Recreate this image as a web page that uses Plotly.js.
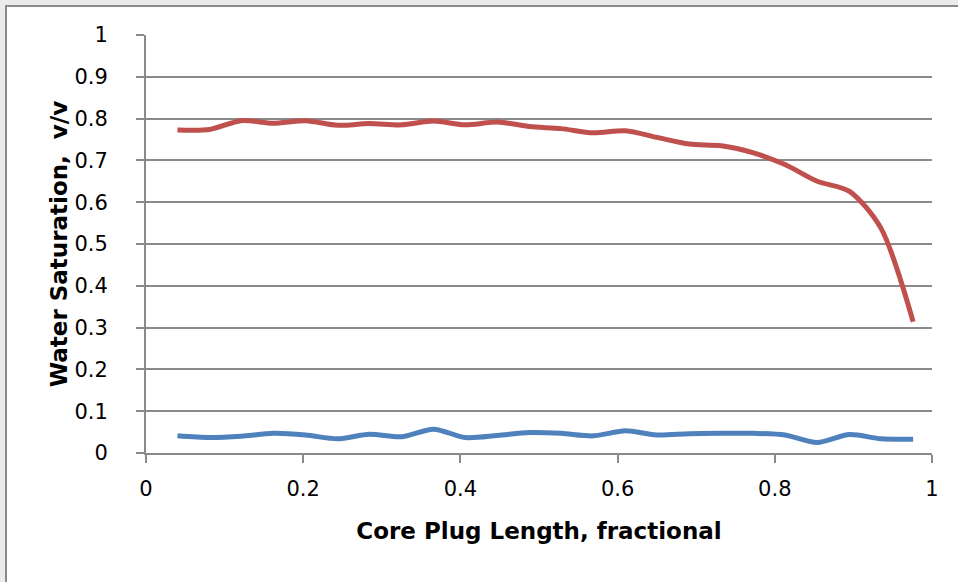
<!DOCTYPE html>
<html>
<head>
<meta charset="utf-8">
<script src="https://cdn.plot.ly/plotly-3.0.1.min.js"></script>
<style>
html,body{margin:0;padding:0;background:#ebebeb;width:958px;height:582px;overflow:hidden;}
#frame{position:absolute;left:5px;top:5px;width:958px;height:582px;background:#fff;border-left:2px solid #8a8a8a;border-top:2px solid #8a8a8a;}
#chart{position:absolute;left:0;top:0;width:958px;height:582px;}
</style>
</head>
<body>
<div id="frame"></div>
<div id="chart"></div>
<script>
var positions = [0.040, 0.081, 0.121, 0.162, 0.203, 0.244, 0.284, 0.325, 0.366, 0.406, 0.447, 0.488,
                 0.528, 0.569, 0.610, 0.650, 0.691, 0.732, 0.773, 0.813, 0.854, 0.895, 0.935, 0.976];
var redSeries = [0.773, 0.774, 0.795, 0.789, 0.795, 0.784, 0.788, 0.785, 0.794, 0.785, 0.792, 0.781,
                 0.776, 0.766, 0.771, 0.755, 0.739, 0.735, 0.718, 0.690, 0.650, 0.626, 0.538, 0.314];
var blueSeries = [0.041, 0.037, 0.040, 0.047, 0.043, 0.034, 0.045, 0.039, 0.057, 0.037, 0.042, 0.049,
                  0.047, 0.041, 0.053, 0.043, 0.046, 0.047, 0.047, 0.043, 0.025, 0.044, 0.034, 0.033];
var xTicks = [0, 0.2, 0.4, 0.6, 0.8, 1];
var yTicks = [0, 0.1, 0.2, 0.3, 0.4, 0.5, 0.6, 0.7, 0.8, 0.9, 1];
var xTitle = 'Core Plug Length, fractional';
var yTitle = 'Water Saturation,  v/v';

var traces = [
  {x: positions, y: blueSeries, mode: 'lines', line: {color: '#4F81BD', width: 5, shape: 'spline', smoothing: 0.8}, hoverinfo: 'skip'},
  {x: positions, y: redSeries, mode: 'lines', line: {color: '#C0504D', width: 5, shape: 'spline', smoothing: 0.8}, hoverinfo: 'skip'}
];
var fontFam = '"DejaVu Sans", sans-serif';
var layout = {
  width: 958, height: 582,
  margin: {l: 146, r: 26, t: 35, b: 129},
  paper_bgcolor: 'rgba(0,0,0,0)',
  plot_bgcolor: 'rgba(0,0,0,0)',
  showlegend: false,
  font: {family: fontFam, color: '#000', size: 21},
  xaxis: {
    range: [0, 1], tickvals: xTicks, ticktext: xTicks.map(String),
    showgrid: false, zeroline: false,
    showline: true, linecolor: '#8a8a8a', linewidth: 2,
    ticks: 'outside', ticklen: 8, tickwidth: 2, tickcolor: '#8a8a8a',
    tickfont: {family: fontFam, size: 21, color: '#000'},
    ticklabelstandoff: 8,
    title: {text: xTitle, font: {family: fontFam, size: 23, color: '#000', weight: 'bold'}, standoff: 23},
    fixedrange: true
  },
  yaxis: {
    range: [0, 1], tickvals: yTicks, ticktext: yTicks.map(String),
    showgrid: true, gridcolor: '#8a8a8a', gridwidth: 2,
    zeroline: false,
    showline: true, linecolor: '#8a8a8a', linewidth: 2,
    ticks: 'outside', ticklen: 8, tickwidth: 2, tickcolor: '#8a8a8a',
    tickfont: {family: fontFam, size: 21, color: '#000'},
    ticklabelstandoff: 24,
    title: {text: yTitle, font: {family: fontFam, size: 23, color: '#000', weight: 'bold'}, standoff: 0},
    fixedrange: true
  }
};
Plotly.newPlot('chart', traces, layout, {staticPlot: true, displayModeBar: false});
</script>
</body>
</html>
